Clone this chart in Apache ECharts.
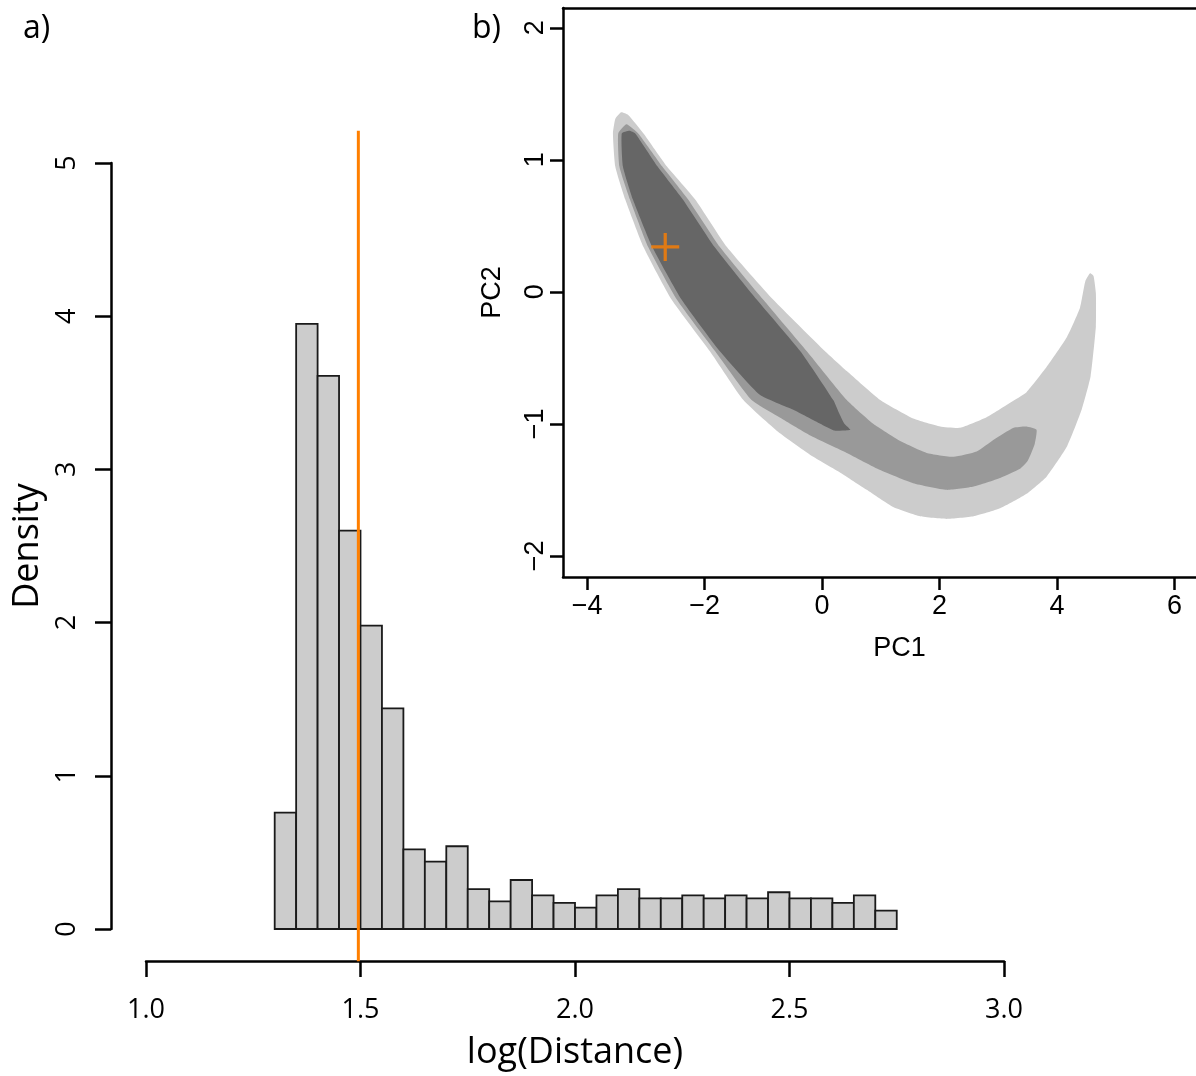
<!DOCTYPE html>
<html>
<head>
<meta charset="utf-8">
<script src="https://cdn.jsdelivr.net/npm/echarts@6/dist/echarts.min.js"></script>
<style>html,body{margin:0;padding:0;background:#fff}#c{width:1196px;height:1076px}</style>
</head>
<body>
<div id="c"></div>
<script>
// ---------- Panel a: histogram of log(Distance) ----------
const binEdges = [1.30,1.35,1.40,1.45,1.50,1.55,1.60,1.65,1.70,1.75,1.80,1.85,1.90,1.95,2.00,2.05,2.10,2.15,2.20,2.25,2.30,2.35,2.40,2.45,2.50,2.55,2.60,2.65,2.70,2.75];
const densities = [0.76,3.95,3.61,2.60,1.98,1.44,0.52,0.44,0.54,0.26,0.18,0.32,0.22,0.17,0.14,0.22,0.26,0.20,0.20,0.22,0.20,0.22,0.20,0.24,0.20,0.20,0.17,0.22,0.12];
const distTicks = [1.0,1.5,2.0,2.5,3.0];
const densityTicks = [0,1,2,3,4,5];
const observedDistance = 1.495;
const observedLineSpan = [-0.21,5.21];

// ---------- Panel b: PCA density contours ----------
const pc1Ticks = [-4,-2,0,2,4,6];
const pc2Ticks = [-2,-1,0,1,2];
const contourLight = [[-3.42,1.36],[-3.30,1.34],[-3.04,1.20],[-2.64,0.95],[-2.16,0.70],[-1.62,0.34],[-0.83,-0.06],[0.05,-0.45],[0.42,-0.60],[0.99,-0.82],[1.55,-0.96],[2.01,-1.02],[2.35,-1.03],[2.80,-0.95],[3.20,-0.84],[3.48,-0.76],[3.82,-0.57],[4.17,-0.34],[4.39,-0.12],[4.48,0.08],[4.56,0.14],[4.62,0.12],[4.66,-0.01],[4.66,-0.26],[4.57,-0.64],[4.42,-0.89],[4.17,-1.17],[3.82,-1.40],[3.48,-1.53],[3.03,-1.64],[2.58,-1.70],[2.12,-1.72],[1.67,-1.70],[1.21,-1.63],[0.76,-1.50],[0.31,-1.37],[-0.15,-1.25],[-0.75,-1.06],[-1.34,-0.82],[-1.91,-0.45],[-2.56,-0.06],[-3.04,0.34],[-3.35,0.70],[-3.52,0.95],[-3.56,1.20],[-3.52,1.31]];
const contourMedium = [[-3.33,1.27],[-3.13,1.20],[-2.72,0.95],[-2.28,0.70],[-1.74,0.34],[-1.00,-0.06],[-0.26,-0.45],[0.42,-0.82],[0.87,-1.00],[1.33,-1.13],[1.78,-1.22],[2.24,-1.25],[2.63,-1.21],[2.92,-1.12],[3.26,-1.03],[3.48,-1.02],[3.65,-1.045],[3.62,-1.15],[3.50,-1.28],[3.37,-1.34],[3.03,-1.41],[2.58,-1.475],[2.12,-1.50],[1.55,-1.45],[0.99,-1.35],[0.42,-1.22],[-0.15,-1.10],[-0.65,-0.97],[-1.20,-0.82],[-1.82,-0.45],[-2.47,-0.06],[-2.96,0.34],[-3.27,0.70],[-3.45,0.95],[-3.47,1.20]];
const contourDark = [[-3.28,1.22],[-3.18,1.20],[-2.80,0.95],[-2.37,0.70],[-1.83,0.34],[-1.11,-0.06],[-0.37,-0.45],[0.19,-0.82],[0.30,-0.93],[0.38,-1.00],[0.48,-1.045],[0.40,-1.05],[0.20,-1.05],[-0.03,-1.00],[-0.49,-0.894],[-1.06,-0.78],[-1.74,-0.45],[-2.39,-0.06],[-2.89,0.34],[-3.22,0.70],[-3.39,0.95],[-3.41,1.20]];
const observedPC = [-2.67,0.34];

const contourLevels = [
  {name:'light', points: contourLight, color:'#cccccc'},
  {name:'medium', points: contourMedium, color:'#999999'},
  {name:'dark', points: contourDark, color:'#666666'}
];

const fontA = "'Open Sans', 'DejaVu Sans', sans-serif";
const fontB = "'Liberation Sans', Arial, sans-serif";
const fmtMinus = v => (v < 0 ? '\u2212' + Math.abs(v) : String(v));

const histData = densities.map((d, i) => [binEdges[i], binEdges[i + 1], d]);

const chart = echarts.init(document.getElementById('c'), null, {renderer: 'canvas'});

const contourSeries = contourLevels.map(lv => ({
  type: 'custom',
  name: lv.name,
  xAxisIndex: 1, yAxisIndex: 1,
  silent: true,
  data: lv.points,
  encode: {x: 0, y: 1},
  renderItem: (params, api) => {
    if (params.dataIndex !== 0) return null;
    return {
      type: 'polygon',
      shape: {points: lv.points.map(p => api.coord(p)), smooth: 0.15},
      style: {fill: lv.color, stroke: null}
    };
  }
}));

const pcXMin = -4.41, pcXMax = 6.364, pcYMin = -2.16, pcYMax = 2.15;

chart.setOption({
  animation: false,
  backgroundColor: '#ffffff',
  title: [
    {text: 'a)', left: 18, top: 8, textStyle: {fontFamily: fontA, fontSize: 32, fontWeight: 'normal', color: '#000'}},
    {text: 'b)', left: 467, top: 8, textStyle: {fontFamily: fontA, fontSize: 32, fontWeight: 'normal', color: '#000'}}
  ],
  grid: [
    {left: 146, top: 163, width: 858, height: 768, containLabel: false},
    {left: 563, top: 8, right: 0, height: 569, show: false, containLabel: false}
  ],
  xAxis: [
    {
      type: 'value', gridIndex: 0, min: 1, max: 3, interval: 0.5,
      position: 'bottom', offset: 32,
      name: 'log(Distance)', nameLocation: 'middle', nameGap: 74,
      nameTextStyle: {fontFamily: fontA, fontSize: 36, color: '#000'},
      axisLine: {show: true, onZero: false, lineStyle: {color: '#000', width: 2.5}},
      axisTick: {show: true, length: 16, lineStyle: {color: '#000', width: 2.5}},
      axisLabel: {margin: 36, fontFamily: fontA, fontSize: 27, color: '#000', formatter: v => Number(v).toFixed(1)},
      splitLine: {show: false}
    },
    {
      type: 'value', gridIndex: 1, min: pcXMin, max: pcXMax,
      position: 'bottom',
      name: 'PC1', nameLocation: 'middle', nameGap: 58,
      nameTextStyle: {fontFamily: fontB, fontSize: 27, color: '#000', padding: [0, 0, 0, 40]},
      axisLine: {show: true, onZero: false, lineStyle: {color: '#000', width: 2.5}},
      axisTick: {show: true, length: 13, lineStyle: {color: '#000', width: 2.5}, customValues: pc1Ticks},
      axisLabel: {margin: 16, fontFamily: fontB, fontSize: 27, color: '#000', customValues: pc1Ticks, formatter: fmtMinus},
      splitLine: {show: false}
    },
    {
      type: 'value', gridIndex: 1, min: pcXMin, max: pcXMax,
      position: 'top',
      axisLine: {show: true, onZero: false, lineStyle: {color: '#000', width: 2.5}},
      axisTick: {show: false}, axisLabel: {show: false}, splitLine: {show: false}
    }
  ],
  yAxis: [
    {
      type: 'value', gridIndex: 0, min: 0, max: 5, interval: 1,
      position: 'left', offset: 35,
      name: 'Density', nameLocation: 'middle', nameGap: 60,
      nameTextStyle: {fontFamily: fontA, fontSize: 36, color: '#000'},
      axisLine: {show: true, onZero: false, lineStyle: {color: '#000', width: 2.5}},
      axisTick: {show: true, length: 16, lineStyle: {color: '#000', width: 2.5}},
      axisLabel: {margin: 30, rotate: 90, fontFamily: fontA, fontSize: 27, color: '#000'},
      splitLine: {show: false}
    },
    {
      type: 'value', gridIndex: 1, min: pcYMin, max: pcYMax,
      position: 'left',
      name: 'PC2', nameLocation: 'middle', nameGap: 57,
      nameTextStyle: {fontFamily: fontB, fontSize: 27, color: '#000'},
      axisLine: {show: true, onZero: false, lineStyle: {color: '#000', width: 2.5}},
      axisTick: {show: true, length: 13, lineStyle: {color: '#000', width: 2.5}, customValues: pc2Ticks},
      axisLabel: {margin: 14, rotate: 90, fontFamily: fontB, fontSize: 27, color: '#000', customValues: pc2Ticks, formatter: fmtMinus},
      splitLine: {show: false}
    }
  ],
  series: [
    {
      type: 'custom', name: 'histogram',
      xAxisIndex: 0, yAxisIndex: 0, silent: true,
      data: histData,
      encode: {x: [0, 1], y: 2},
      renderItem: (params, api) => {
        const p0 = api.coord([api.value(0), api.value(2)]);
        const p1 = api.coord([api.value(1), 0]);
        return {
          type: 'rect',
          shape: {x: p0[0], y: p0[1], width: p1[0] - p0[0], height: p1[1] - p0[1]},
          style: {fill: '#cccccc', stroke: '#1a1a1a', lineWidth: 1.8}
        };
      }
    },
    {
      type: 'line', name: 'observed',
      xAxisIndex: 0, yAxisIndex: 0, silent: true, clip: false,
      symbol: 'none',
      data: observedLineSpan.map(y => [observedDistance, y]),
      lineStyle: {color: '#ff7f00', width: 3}
    },
    ...contourSeries,
    {
      type: 'scatter', name: 'observedPC',
      xAxisIndex: 1, yAxisIndex: 1, silent: true,
      data: [observedPC],
      symbol: 'path://M11.5,0H14.5V11.5H26V14.5H14.5V26H11.5V14.5H0V11.5H11.5Z',
      symbolSize: 28,
      itemStyle: {color: '#ff7f00'}
    }
  ]
});
</script>
</body>
</html>
